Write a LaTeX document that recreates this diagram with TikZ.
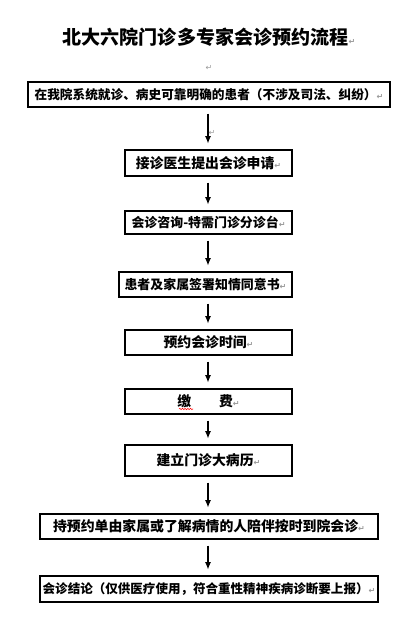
\documentclass[tikz,border=0pt]{standalone}
\usepackage{fontspec}
\usetikzlibrary{arrows.meta,decorations.pathmorphing}
\newfontfamily\cjk{Noto Sans CJK SC}
\newfontfamily\symfont{DejaVu Sans}
\newcommand{\pmark}{{\symfont\color{black!40}\fontsize{6}{6}\selectfont ↵}}

\begin{document}
\begin{tikzpicture}[x=0.75pt,y=-0.75pt,
  box/.style={draw,line width=0.8pt,inner sep=0pt,minimum height=18.75pt,
    font=\cjk\bfseries\fontsize{10.4}{12}\selectfont},
  arr/.style={line width=0.8pt,shorten <=4.5pt,shorten >=4.5pt,
    -{Latex[length=5.5pt,width=4.5pt]}}]
\path[use as bounding box] (0,0) rectangle (412,640);
\node[font=\cjk\bfseries\fontsize{14.3}{16}\selectfont] (title) at (209,37) {北大六院门诊多专家会诊预约流程\pmark};
\node (blank) at (209,68) {\pmark};
\node[box,minimum width=271.5pt,font=\cjk\bfseries\fontsize{9.5}{12}\selectfont] (b1) at (209,94.5) {在我院系统就诊、病史可靠明确的患者（不涉及司法、纠纷）\pmark};
\node[box,minimum width=125.25pt,minimum height=19.5pt] (b2) at (208.5,163) {接诊医生提出会诊申请\pmark};
\node[box,minimum width=125.25pt,minimum height=17.25pt,font=\cjk\bfseries\fontsize{9.7}{12}\selectfont] (b3) at (208.5,222.5) {会诊咨询-特需门诊分诊台\pmark};
\node[box,minimum width=129.75pt,font=\cjk\bfseries\fontsize{9.7}{12}\selectfont] (b4) at (205.5,284.5) {患者及家属签署知情同意书\pmark};
\node[box,minimum width=125.25pt] (b5) at (208.5,342.5) {预约会诊时间\pmark};
\node[box,minimum width=125.25pt] (b6) at (208.5,401.5) {缴\hspace{2em}费\pmark};
\node[box,minimum width=125.25pt,minimum height=23.25pt] (b7) at (208.5,460.5) {建立门诊大病历\pmark};
\node[box,minimum width=253.5pt] (b8) at (209,526.5) {持预约单由家属或了解病情的人陪伴按时到院会诊\pmark};
\node[box,minimum width=253.5pt,minimum height=19.5pt,font=\cjk\bfseries\fontsize{9.4}{12}\selectfont] (b9) at (209,589) {会诊结论（仅供医疗使用，符合重性精神疾病诊断要上报）\pmark};
\coordinate (ax) at (208,0);
\foreach \a/\b in {b1/b2,b2/b3,b3/b4,b4/b5,b5/b6,b6/b7,b7/b8,b8/b9}
  \draw[arr] (\a.south -| ax) -- (\b.north -| ax);
\node (mid) at (212,133) {\pmark};
% spelling mark under the first character
\draw[red,line width=0.4pt,decorate,decoration={snake,amplitude=0.5pt,segment length=2pt}] (179,409) -- (193,409);
\end{tikzpicture}
\end{document}
